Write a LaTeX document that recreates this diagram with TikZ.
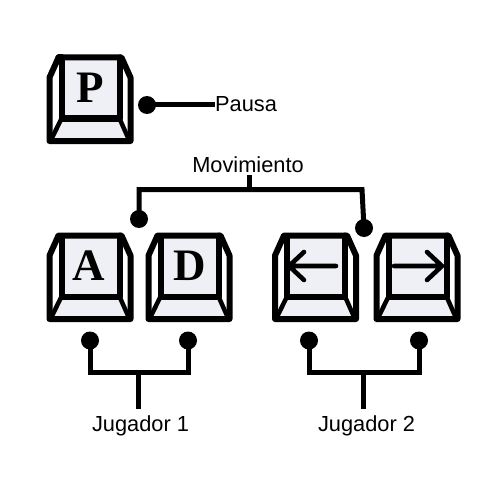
\documentclass[tikz,border=0pt]{standalone}
\usepackage{fontspec}
\setmainfont{Liberation Sans}
\newfontfamily\keyfont{Liberation Serif}
\definecolor{keyface}{HTML}{EFF0F5}
\tikzset{
  x=1pt,y=-1pt,
  keyline/.style={line width=6pt,line join=round,line cap=round,black},
  link/.style={line width=5pt,black},
  dot/.style={circle,fill=black,inner sep=0pt,minimum size=18pt},
  caption/.style={font=\fontsize{21.8}{24}\selectfont,inner sep=0pt,text=black},
  keyletter/.style={font=\keyfont\bfseries\fontsize{45}{48}\selectfont,inner sep=0pt,text=black},
  keycap/.pic={
    \fill[white] (0,20)--(9,0)--(72,0)--(81,20)--(81,83.5)--(0,83.5)--cycle;
    \fill[keyface] (12,0) rectangle (70,61);
    \fill[keyface] (12,61)--(70,61)--(79,83.5)--(2,83.5)--cycle;
    \draw[keyline] (0,83.5)--(0,20)--(9,0)--(72,0)--(81,20)--(81,83.5)--cycle;
    \draw[keyline] (9,0)--(12,0)--(12,61)--(70,61)--(70,0);
    \draw[line width=4.5pt,line cap=round] (12,61)--(1,83.5);
    \draw[line width=4.5pt,line cap=round] (70,61)--(80,83.5);
    \node[keyletter] at (41,30) {\tikzpictext};
  }
}
\begin{document}
\begin{tikzpicture}
\useasboundingbox (0,0) rectangle (500,500);
\fill[white] (0,0) rectangle (500,500);
% keys
\pic[pic text=P] at (49.5,57.5) {keycap};
\pic[pic text={A\kern3pt}] at (49.5,235.5) {keycap};
\pic[pic text=D] at (148.5,235.5) {keycap};
\pic[pic text={}] at (275,235.5) {keycap};
\pic[pic text={}] at (376.5,235.5) {keycap};
% arrows on keys
\draw[line width=4.6pt,line cap=round,line join=round] (336,266)--(289,266) (304,252)--(289,266)--(304,280);
\draw[line width=4.6pt,line cap=round,line join=round] (394,266)--(442,266) (427,252)--(442,266)--(427,280);
% labels
\node[caption,anchor=west] (pausa) at (215,104.5) {Pausa};
\node[caption] (mov) at (248,164.5) {Movimiento};
\node[caption] (j1) at (140.5,425.5) {Jugador 1};
\node[caption] (j2) at (366.5,425.5) {Jugador 2};
% dots
\node[dot] (dp) at (147,105) {};
\node[dot] (dm1) at (139,219) {};
\node[dot] (dm2) at (364,228) {};
\node[dot] (da) at (90,340.5) {};
\node[dot] (dd) at (188,340.5) {};
\node[dot] (dl) at (309,340.5) {};
\node[dot] (dr) at (419,340.5) {};
% junctions
\coordinate (mj) at (249,189.5);
\coordinate (mt) at (249,175);
\coordinate (j1j) at (138,372);
\coordinate (j2j) at (363,372);
\coordinate (j1e) at (138,408.5);
\coordinate (j2e) at (363,408.5);
\coordinate (mr) at (362,189.5);
% connectors
\draw[link] (dp.center)--(dp.center-|pausa.west);
\draw[link] (mt)--(mj);
\draw[link,line join=miter] (dm1.center)--(dm1.center|-mj)--(mr)--(dm2.center);
\draw[link] (da.center)--(da.center|-j1j)--(dd.center|-j1j)--(dd.center);
\draw[link] (dl.center)--(dl.center|-j2j)--(dr.center|-j2j)--(dr.center);
\draw[link] (j1j)--(j1e);
\draw[link] (j2j)--(j2e);
\end{tikzpicture}
\end{document}
